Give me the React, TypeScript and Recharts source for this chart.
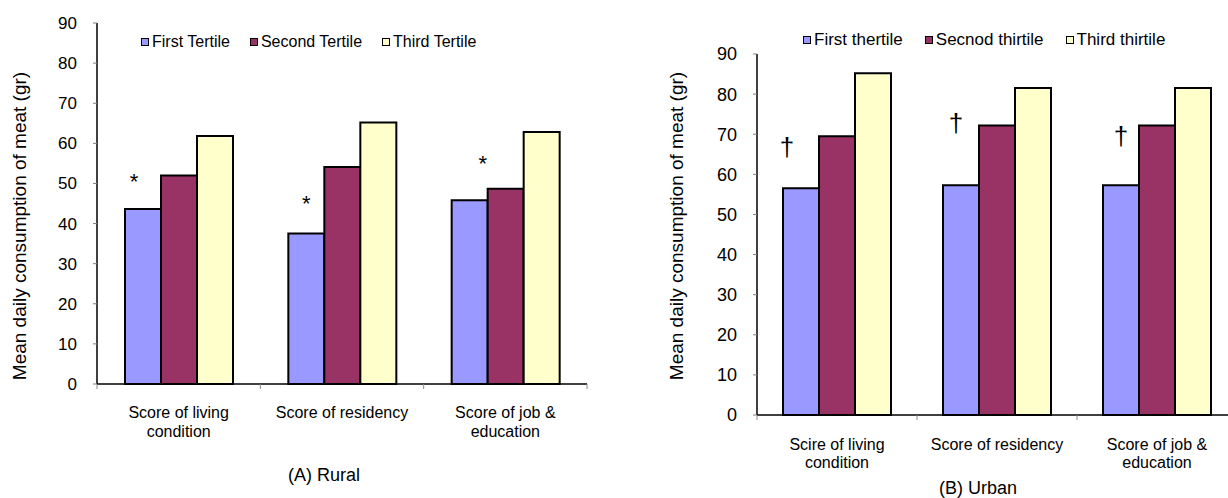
import React from "react";
import { BarChart, Bar, XAxis, YAxis, Legend, LabelList } from "recharts";

// categories (line breaks as in the original axis)
const ruralCategories = ["Score of living\ncondition", "Score of residency", "Score of job &\neducation"];
const urbanCategories = ["Scire of living\ncondition", "Score of residency", "Score of job &\neducation"];

const ruralNames = ["First Tertile", "Second Tertile", "Third Tertile"];
const urbanNames = ["First thertile", "Secnod thirtile", "Third thirtile"];

// mean daily consumption of meat (gr)
const ruralFirst = [43.6, 37.5, 45.8];
const ruralSecond = [52.0, 54.1, 48.7];
const ruralThird = [61.8, 65.2, 62.8];

const urbanFirst = [56.5, 57.3, 57.3];
const urbanSecond = [69.5, 72.2, 72.2];
const urbanThird = [85.2, 81.5, 81.5];

const ruralMarks = ["*", "*", "*"];
const urbanMarks = ["\u2020", "\u2020", "\u2020"];

const yTicks = [0, 10, 20, 30, 40, 50, 60, 70, 80, 90];

const yLabel = "Mean daily consumption of meat (gr)";

const FONT = "'Liberation Sans', Arial, sans-serif";
const COLORS = ["#9999FF", "#993366", "#FFFFCC"];

// where the significance marks sit, relative to the top-left of the first bar
const ruralMarkPos = [
  { dx: 9, dy: 32 },
  { dx: 18, dy: 35 },
  { dx: 31, dy: 41 },
];
const urbanMarkPos = [
  { dx: 4, dy: 39 },
  { dx: 13, dy: 60 },
  { dx: 18, dy: 47 },
];

const buildRows = (cats: string[], a: number[], b: number[], c: number[], marks: string[]) =>
  cats.map((cat, i) => ({ cat, first: a[i], second: b[i], third: c[i], mark: marks[i] }));

const ruralData = buildRows(ruralCategories, ruralFirst, ruralSecond, ruralThird, ruralMarks);
const urbanData = buildRows(urbanCategories, urbanFirst, urbanSecond, urbanThird, urbanMarks);

function CategoryTick(props: any) {
  const { x, y, payload, index, lineStep, firstDy, count } = props;
  const half = payload && payload.offset ? payload.offset : 80;
  const lines = String(payload.value).split("\n");
  return (
    <g>
      <line x1={x - half} x2={x - half} y1={y} y2={y + 5} stroke="#888" />
      {index === count - 1 && <line x1={x + half} x2={x + half} y1={y} y2={y + 5} stroke="#888" />}
      <text x={x} y={y + firstDy} textAnchor="middle" fontSize={16} fontFamily={FONT} fill="#000">
        {lines.map((l, i) => (
          <tspan key={i} x={x} dy={i === 0 ? 0 : lineStep}>
            {l}
          </tspan>
        ))}
      </text>
    </g>
  );
}

function makeLegend(gap: number, fontSize: number) {
  return (props: any) => {
    const payload = props.payload || [];
    return (
      <div style={{ display: "flex", alignItems: "center", fontFamily: FONT, fontSize, whiteSpace: "nowrap", lineHeight: "18px" }}>
        {payload.map((e: any, i: number) => (
          <span key={i} style={{ display: "flex", alignItems: "center", marginRight: i < payload.length - 1 ? gap : 0 }}>
            <span
              style={{
                display: "inline-block",
                width: 6,
                height: 6,
                border: "1.5px solid #000",
                background: e.color,
                marginRight: 3,
              }}
            />
            <span style={{ color: "#000" }}>{e.value}</span>
          </span>
        ))}
      </div>
    );
  };
}

function makeMark(pos: { dx: number; dy: number }[], fontSize: number, baselineShift: number) {
  return (props: any) => {
    const { x, y, value, index } = props;
    const p = pos[index] || { dx: 0, dy: 30 };
    return (
      <text x={Number(x) + p.dx} y={Number(y) - p.dy + baselineShift} textAnchor="middle" fontSize={fontSize} fontFamily={FONT} fill="#000">
        {value}
      </text>
    );
  };
}

function makeYLabel(cx: number, cy: number) {
  return () => (
    <text
      x={cx}
      y={cy}
      transform={`rotate(-90 ${cx} ${cy})`}
      textAnchor="middle"
      dominantBaseline="central"
      fontSize={19}
      fontFamily={FONT}
      fill="#000"
    >
      {yLabel}
    </text>
  );
}

export default function App() {
  return (
    <div style={{ position: "absolute", left: 0, top: 0, width: 1228, height: 498, overflow: "hidden", background: "#fff", fontFamily: FONT }}>
      {/* (A) Rural */}
      <div style={{ position: "absolute", left: 0, top: 0 }}>
        <BarChart width={620} height={498} data={ruralData} margin={{ top: 23, right: 33, bottom: 54, left: 0 }} barGap={0} barSize={36}>
          <XAxis
            dataKey="cat"
            height={60}
            tickSize={0}
            tickMargin={0}
            tickLine={false}
            axisLine={{ stroke: "#000", strokeWidth: 1.5 }}
            interval={0}
            tick={(p: any) => <CategoryTick {...p} lineStep={19} firstDy={34} count={ruralData.length} />}
          />
          <YAxis
            width={97}
            domain={[0, 90]}
            ticks={yTicks}
            interval={0}
            tickSize={4}
            tickMargin={16}
            tickLine={{ stroke: "#808080" }}
            axisLine={{ stroke: "#000", strokeWidth: 1.5 }}
            tick={{ fontSize: 17, fill: "#000", fontFamily: FONT }}
            label={{ content: makeYLabel(19, 226) }}
          />
          <Legend
            layout="vertical"
            align="center"
            verticalAlign="middle"
            wrapperStyle={{ left: 141, top: 33, width: "auto" }}
            content={makeLegend(20, 16)}
          />
          <Bar dataKey="first" name={ruralNames[0]} fill={COLORS[0]} stroke="#000" strokeWidth={2} isAnimationActive={false}>
            <LabelList dataKey="mark" content={makeMark(ruralMarkPos, 22, 12)} />
          </Bar>
          <Bar dataKey="second" name={ruralNames[1]} fill={COLORS[1]} stroke="#000" strokeWidth={2} isAnimationActive={false} />
          <Bar dataKey="third" name={ruralNames[2]} fill={COLORS[2]} stroke="#000" strokeWidth={2} isAnimationActive={false} />
        </BarChart>
        <div style={{ position: "absolute", left: 224, width: 200, top: 465, textAlign: "center", fontSize: 18, lineHeight: "20px" }}>(A) Rural</div>
      </div>

      {/* (B) Urban */}
      <div style={{ position: "absolute", left: 640, top: 0 }}>
        <BarChart width={600} height={498} data={urbanData} margin={{ top: 54, right: 3, bottom: 33, left: 0 }} barGap={0} barSize={36}>
          <XAxis
            dataKey="cat"
            height={50}
            tickSize={0}
            tickMargin={0}
            tickLine={false}
            axisLine={{ stroke: "#000", strokeWidth: 1.5 }}
            interval={0}
            tick={(p: any) => <CategoryTick {...p} lineStep={18} firstDy={35} count={urbanData.length} />}
          />
          <YAxis
            width={117}
            domain={[0, 90]}
            ticks={yTicks}
            interval={0}
            tickSize={4}
            tickMargin={16}
            tickLine={{ stroke: "#808080" }}
            axisLine={{ stroke: "#000", strokeWidth: 1.5 }}
            tick={{ fontSize: 18, fill: "#000", fontFamily: FONT }}
            label={{ content: makeYLabel(36, 226) }}
          />
          <Legend
            layout="vertical"
            align="center"
            verticalAlign="middle"
            wrapperStyle={{ left: 163, top: 31, width: "auto" }}
            content={makeLegend(22, 17)}
          />
          <Bar dataKey="first" name={urbanNames[0]} fill={COLORS[0]} stroke="#000" strokeWidth={2} isAnimationActive={false}>
            <LabelList dataKey="mark" content={makeMark(urbanMarkPos, 26, 7)} />
          </Bar>
          <Bar dataKey="second" name={urbanNames[1]} fill={COLORS[1]} stroke="#000" strokeWidth={2} isAnimationActive={false} />
          <Bar dataKey="third" name={urbanNames[2]} fill={COLORS[2]} stroke="#000" strokeWidth={2} isAnimationActive={false} />
        </BarChart>
        <div style={{ position: "absolute", left: 238, width: 200, top: 478, textAlign: "center", fontSize: 18, lineHeight: "20px" }}>(B) Urban</div>
      </div>
    </div>
  );
}
